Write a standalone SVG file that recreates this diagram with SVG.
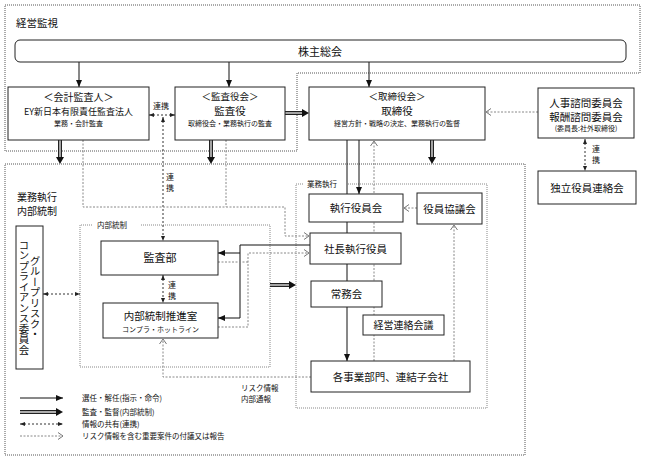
<svg xmlns="http://www.w3.org/2000/svg" width="645" height="460" viewBox="0 0 645 460">
<style>
text{font-family:"Noto Sans CJK JP","Noto Sans",sans-serif;fill:#111}
.c{text-anchor:middle}
.box{fill:#fff;stroke:#222;stroke-width:1}
.region{fill:none;stroke:#555;stroke-width:1;stroke-dasharray:1 1}
.subregion{fill:none;stroke:#888;stroke-width:1;stroke-dasharray:1 1}
.sel{fill:none;stroke:#111;stroke-width:1}
.dbl{fill:none;stroke:#222;stroke-width:4}
.dbl-in{fill:none;stroke:#ddd;stroke-width:1.4}
.head{fill:#111}
.share{fill:none;stroke:#333;stroke-width:1;stroke-dasharray:2 2}
.risk{fill:none;stroke:#888;stroke-width:1;stroke-dasharray:2 1.5}
.vt{writing-mode:vertical-rl;text-anchor:middle}
</style>
<defs>
<marker id="ah" viewBox="0 0 7 6" refX="7" refY="3" markerWidth="7" markerHeight="6" markerUnits="userSpaceOnUse" orient="auto-start-reverse"><path d="M0,0 L7,3 L0,6 z" fill="#111"/></marker>
<marker id="as" viewBox="0 0 5 4" refX="5" refY="2" markerWidth="5" markerHeight="4" markerUnits="userSpaceOnUse" orient="auto-start-reverse"><path d="M0,0 L5,2 L0,4 z" fill="#222"/></marker>
<marker id="ao" viewBox="0 0 6 8" refX="5.5" refY="4" markerWidth="6" markerHeight="8" markerUnits="userSpaceOnUse" orient="auto"><path d="M0.5,0.5 L5.5,4 L0.5,7.5" fill="none" stroke="#777" stroke-width="1"/></marker>
</defs>

<!-- regions -->
<g id="region-keiei">
<path class="region" d="M5,5 H640 V73 H297 V151 H5 Z"/>
<text x="16" y="27" font-size="10.5">経営監視</text>
</g>
<g id="region-gyomu">
<path class="region" d="M5,164 H525 V455 H5 Z"/>
<text x="17" y="201" font-size="10">業務執行</text>
<text x="17" y="215" font-size="10">内部統制</text>
</g>
<g id="region-naibu">
<path class="subregion" d="M92,225 H80 V367 H270 V225 H140"/>
<text x="97" y="228" font-size="7.5">内部統制</text>
</g>
<g id="region-shikko">
<path class="subregion" d="M303,184 H296 V408 H487 V184 H347"/>
<text x="307" y="187" font-size="7.5">業務執行</text>
</g>

<!-- connectors -->
<g id="connectors">
<!-- selection / instruction -->
<path class="sel" marker-end="url(#ah)" d="M79,62 V87"/>
<path class="sel" marker-end="url(#ah)" d="M229,62 V87"/>
<path class="sel" marker-end="url(#ah)" d="M369,62 V87"/>
<path class="sel" marker-end="url(#ah)" d="M359,140 V194"/>
<path class="sel" marker-end="url(#ah)" d="M347,140 V361"/>
<path class="sel" d="M310,245 H240 V318"/>
<path class="sel" marker-end="url(#ah)" d="M240,253 H218"/>
<path class="sel" marker-end="url(#ah)" d="M240,318 H218"/>
<!-- audit / supervision (double lines) -->
<path class="dbl" d="M60,140 V157"/><path class="dbl-in" d="M60,140 V157"/><polygon class="head" points="56,157 64,157 60,164"/>
<path class="dbl" d="M211,140 V157"/><path class="dbl-in" d="M211,140 V157"/><polygon class="head" points="207,157 215,157 211,164"/>
<path class="dbl" d="M432,140 V157"/><path class="dbl-in" d="M432,140 V157"/><polygon class="head" points="428,157 436,157 432,164"/>
<path class="dbl" d="M285,113 H302"/><path class="dbl-in" d="M285,113 H302"/><polygon class="head" points="302,109 302,117 309,113"/>
<path class="dbl" d="M270,285 H289"/><path class="dbl-in" d="M270,285 H289"/><polygon class="head" points="289,281 289,289 296,285"/>
<!-- information sharing -->
<path class="share" marker-start="url(#as)" marker-end="url(#as)" d="M149,115 H175"/>
<path class="share" marker-start="url(#as)" marker-end="url(#as)" d="M163,117 V241"/>
<path class="share" marker-start="url(#as)" marker-end="url(#as)" d="M163,275 V303"/>
<path class="share" marker-start="url(#as)" marker-end="url(#as)" d="M43,294 H80"/>
<path class="share" marker-start="url(#as)" marker-end="url(#as)" d="M585,139 V171"/>
<!-- risk information / reporting -->
<path class="risk" marker-end="url(#ao)" d="M538,112 H486"/>
<path class="risk" marker-end="url(#ao)" d="M83,140 V207 H285 V236 H309"/>
<path class="risk" d="M226,140 V207"/>
<path class="risk" d="M218,262 H248"/>
<path class="risk" marker-end="url(#ao)" d="M218,327 H248 V253 H309"/>
<path class="risk" marker-end="url(#ao)" d="M417,208 H404"/>
<path class="risk" marker-end="url(#ao)" d="M374,361 V141"/>
<path class="risk" marker-end="url(#ao)" d="M454,361 V225"/>
<path class="risk" marker-end="url(#ao)" d="M311,377 H163 V339"/>
</g>

<!-- labels on connectors -->
<g id="labels">
<text x="153" y="109" font-size="8">連携</text>
<text x="170" y="180" font-size="8" class="c">連</text>
<text x="170" y="191" font-size="8" class="c">携</text>
<text x="172" y="288" font-size="8" class="c">連</text>
<text x="172" y="299" font-size="8" class="c">携</text>
<text x="596" y="152" font-size="8" class="c">連</text>
<text x="596" y="163" font-size="8" class="c">携</text>
<text x="241" y="391" font-size="7.5">リスク情報</text>
<text x="241" y="402" font-size="7.5">内部通報</text>
</g>

<!-- nodes -->
<g id="kabunushi">
<rect class="box" x="15" y="40" width="611" height="22" rx="5"/>
<text x="320" y="55.5" font-size="11" class="c">株主総会</text>
</g>
<g id="kaikei">
<rect class="box" x="8" y="87" width="141" height="53"/>
<text x="78.5" y="101" font-size="10" class="c">＜会計監査人＞</text>
<text x="78.5" y="115" font-size="9" class="c">EY新日本有限責任監査法人</text>
<text x="78.5" y="126" font-size="7" class="c">業務・会計監査</text>
</g>
<g id="kansayakukai">
<rect class="box" x="175" y="87" width="110" height="53"/>
<text x="230" y="100" font-size="9.5" class="c">＜監査役会＞</text>
<text x="230" y="115" font-size="10.5" class="c">監査役</text>
<text x="230" y="126" font-size="7" class="c">取締役会・業務執行の監査</text>
</g>
<g id="torishimariyakukai">
<rect class="box" x="309" y="87" width="176" height="53"/>
<text x="397" y="100" font-size="9.5" class="c">＜取締役会＞</text>
<text x="397" y="115" font-size="10.5" class="c">取締役</text>
<text x="397" y="126" font-size="7" class="c">経営方針・戦略の決定、業務執行の監督</text>
</g>
<g id="shimon">
<rect class="box" x="538" y="88" width="96" height="50"/>
<text x="586" y="107" font-size="10.5" class="c">人事諮問委員会</text>
<text x="586" y="121" font-size="10.5" class="c">報酬諮問委員会</text>
<text x="586" y="131" font-size="7" class="c">(委員長:社外取締役)</text>
</g>
<g id="dokuritsu">
<rect class="box" x="538" y="171" width="98" height="33"/>
<text x="587" y="191.5" font-size="10.5" class="c">独立役員連絡会</text>
</g>
<g id="group-risk">
<rect class="box" x="16" y="226" width="27" height="143"/>
<text x="35" y="297.5" font-size="10.5" class="vt">グループリスク・</text>
<text x="24" y="297.5" font-size="10.5" class="vt">コンプライアンス委員会</text>
</g>
<g id="kansabu">
<rect class="box" x="101" y="241" width="117" height="34"/>
<text x="160" y="262" font-size="11" class="c">監査部</text>
</g>
<g id="suishin">
<rect class="box" x="103" y="303" width="115" height="35"/>
<text x="160.5" y="320" font-size="10.5" class="c">内部統制推進室</text>
<text x="160.5" y="331.5" font-size="7" class="c">コンプラ・ホットライン</text>
</g>
<g id="shikkoyakuinkai">
<rect class="box" x="309" y="194" width="94" height="28"/>
<text x="356" y="212" font-size="10.5" class="c">執行役員会</text>
</g>
<g id="yakuinkyogikai">
<rect class="box" x="417" y="193" width="65" height="31"/>
<text x="449.5" y="212.5" font-size="10.5" class="c">役員協議会</text>
</g>
<g id="shacho">
<rect class="box" x="310" y="233" width="91" height="31"/>
<text x="355.5" y="252.5" font-size="10.5" class="c">社長執行役員</text>
</g>
<g id="jomukai">
<rect class="box" x="311" y="281" width="71" height="26"/>
<text x="346.5" y="297.5" font-size="10.5" class="c">常務会</text>
</g>
<g id="keiei-renraku">
<rect class="box" x="363" y="315" width="81" height="20"/>
<text x="403.5" y="328.5" font-size="10" class="c">経営連絡会議</text>
</g>
<g id="jigyobumon">
<rect class="box" x="311" y="361" width="159" height="31"/>
<text x="390.5" y="380.5" font-size="10.5" class="c">各事業部門、連結子会社</text>
</g>

<!-- legend -->
<g id="legend">
<path class="sel" marker-end="url(#ah)" d="M20,398 H63"/>
<path class="dbl" d="M20,412 H56"/><path class="dbl-in" d="M20,412 H56"/><polygon class="head" points="56,408 56,416 63,412"/>
<path class="share" marker-start="url(#as)" marker-end="url(#as)" d="M20,424 H63"/>
<path class="risk" marker-end="url(#ao)" d="M20,436 H63"/>
<text x="82" y="401" font-size="7.5">選任・解任(指示・命令)</text>
<text x="82" y="415" font-size="7.5">監査・監督(内部統制)</text>
<text x="82" y="427" font-size="7.5">情報の共有(連携)</text>
<text x="82" y="439" font-size="7.5">リスク情報を含む重要案件の付議又は報告</text>
</g>
</svg>
